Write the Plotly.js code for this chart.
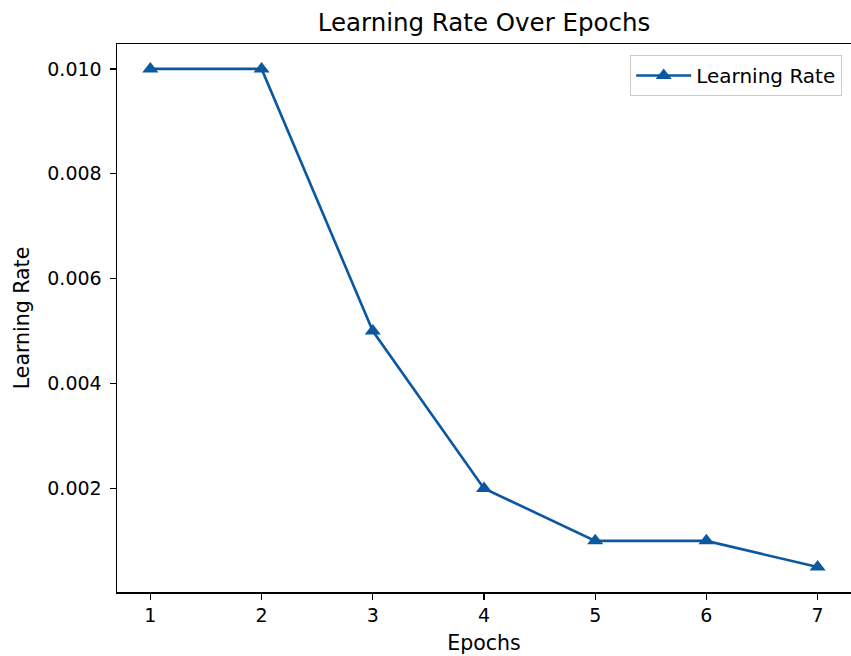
<!DOCTYPE html>
<html>
<head>
<meta charset="utf-8">
<script src="https://cdn.plot.ly/plotly-3.0.1.min.js"></script>
<style>html,body{margin:0;padding:0;background:#fff;}#chart{width:851px;height:656px;}</style>
</head>
<body>
<div id="chart"></div>
<script>
const epochs = [1, 2, 3, 4, 5, 6, 7];
const learningRates = [0.01, 0.01, 0.005, 0.002, 0.001, 0.001, 0.0005];
const xTicks = [1, 2, 3, 4, 5, 6, 7];
const yTicks = [0.002, 0.004, 0.006, 0.008, 0.010];
const yTickLabels = ['0.002', '0.004', '0.006', '0.008', '0.010'];

const font = 'DejaVu Sans, sans-serif';
const trace = {
  x: epochs, y: learningRates, type: 'scatter', mode: 'lines+markers',
  name: 'Learning Rate',
  line: {color: '#0a58a0', width: 2.6},
  marker: {symbol: 'triangle-up', size: 14, color: '#0a58a0'}
};
const layout = {
  width: 851, height: 656,
  margin: {l: 117, r: 0, t: 44, b: 64},
  paper_bgcolor: '#fff', plot_bgcolor: '#fff',
  font: {family: font, size: 19, color: '#000'},
  title: {text: 'Learning Rate Over Epochs', font: {family: font, size: 24.5, color: '#000'}, x: 0.5, xref: 'paper', y: 0.966, yanchor: 'middle'},
  showlegend: true,
  legend: {x: 0.988, y: 0.98, xanchor: 'right', yanchor: 'top', bgcolor: '#fff', bordercolor: '#cccccc', borderwidth: 1, itemwidth: 55, font: {family: font, size: 20, color: '#000'}},
  xaxis: {
    range: [0.7, 7.3], tickvals: xTicks, ticktext: xTicks.map(String),
    showgrid: false, zeroline: false, showline: true, mirror: true, linecolor: '#000', linewidth: 1.5,
    ticks: 'outside', ticklen: 6, tickwidth: 1.2, tickcolor: '#000',
    tickfont: {family: font, size: 19},
    title: {text: 'Epochs', font: {family: font, size: 20.5}, standoff: 10}
  },
  yaxis: {
    range: [0.000025, 0.010475], tickvals: yTicks, ticktext: yTickLabels,
    showgrid: false, zeroline: false, showline: true, mirror: false, linecolor: '#000', linewidth: 1.5,
    ticks: 'outside', ticklen: 6, tickwidth: 1.2, tickcolor: '#000', ticklabelstandoff: 4,
    tickfont: {family: font, size: 19},
    title: {text: 'Learning Rate', font: {family: font, size: 20.5}, standoff: 12}
  }
};
Plotly.newPlot('chart', [trace], layout, {displayModeBar: false, staticPlot: true});
</script>
</body>
</html>
